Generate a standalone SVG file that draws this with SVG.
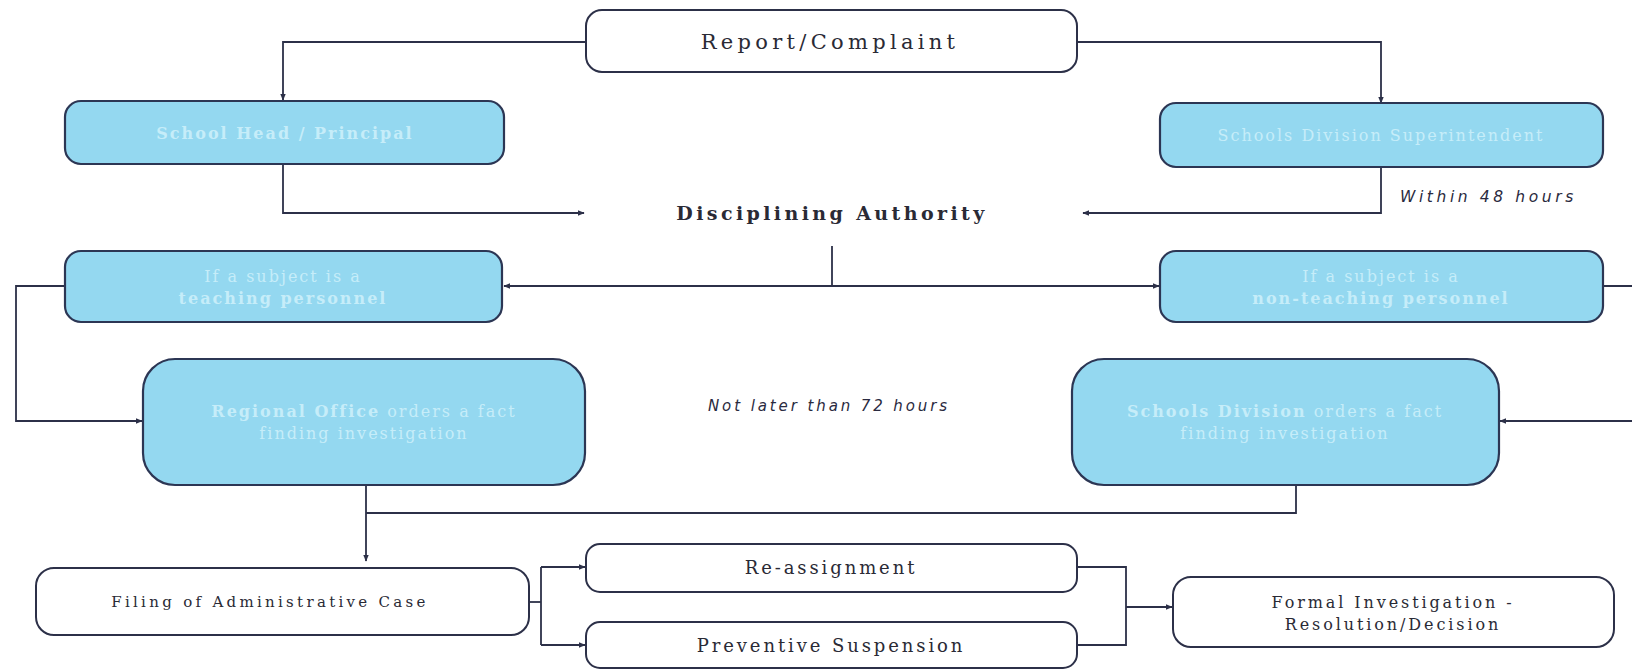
<svg xmlns="http://www.w3.org/2000/svg" width="1632" height="669" viewBox="0 0 1632 669">
<style>
.w{fill:#ffffff;stroke:#2c3048;stroke-width:2}
.b{fill:#94d8f0;stroke:#2c3654;stroke-width:2.2}
.t{font-family:"DejaVu Serif","Liberation Serif",serif;fill:#2a2a35;text-anchor:middle;dominant-baseline:central}
.bt{font-family:"DejaVu Serif","Liberation Serif",serif;fill:#c6edf9;text-anchor:middle;dominant-baseline:central;font-size:16px;letter-spacing:2px}
.it{font-family:"DejaVu Sans","Liberation Sans",sans-serif;font-style:italic;fill:#2a2a40;dominant-baseline:central}
.c{fill:none;stroke:#2c3048;stroke-width:1.8}
</style>
<defs>
<marker id="a" viewBox="0 0 10 10" refX="9" refY="5" markerWidth="7" markerHeight="7" orient="auto" markerUnits="userSpaceOnUse">
<path d="M0,1 L10,5 L0,9 z" fill="#2c3048"/>
</marker>
</defs>
<g id="connectors">
<path class="c" d="M586,42 H283 V100" marker-end="url(#a)"/>
<path class="c" d="M1077,42 H1381 V103" marker-end="url(#a)"/>
<path class="c" d="M283,164 V213 H584" marker-end="url(#a)"/>
<path class="c" d="M1381,167 V213 H1083" marker-end="url(#a)"/>
<path class="c" d="M832,246 V286"/>
<path class="c" d="M832,286 H504" marker-end="url(#a)"/>
<path class="c" d="M832,286 H1159" marker-end="url(#a)"/>
<path class="c" d="M65,286 H16 V421 H142" marker-end="url(#a)"/>
<path class="c" d="M1603,286 H1640 V421 H1500" marker-end="url(#a)"/>
<path class="c" d="M366,485 V561" marker-end="url(#a)"/>
<path class="c" d="M1296,485 V513 H366"/>
<path class="c" d="M529,602 H541"/>
<path class="c" d="M541,567 V645"/>
<path class="c" d="M541,567 H585" marker-end="url(#a)"/>
<path class="c" d="M541,645 H585" marker-end="url(#a)"/>
<path class="c" d="M1077,567 H1126 V645 H1077"/>
<path class="c" d="M1126,607 H1172" marker-end="url(#a)"/>
</g>
<g id="report">
<rect class="w" x="586" y="10" width="491" height="62" rx="16"/>
<text class="t" x="830" y="42" font-size="21" letter-spacing="4.3">Report/Complaint</text>
</g>
<g id="schoolhead">
<rect class="b" x="65" y="101" width="439" height="63" rx="16"/>
<text class="bt" x="285" y="133" font-weight="bold">School Head / Principal</text>
</g>
<g id="superintendent">
<rect class="b" x="1160" y="103" width="443" height="64" rx="16"/>
<text class="bt" x="1381" y="135" letter-spacing="1.5">Schools Division Superintendent</text>
</g>
<g id="authority">
<text class="t" x="832" y="213" font-size="19" font-weight="bold" letter-spacing="3.4">Disciplining Authority</text>
</g>
<g id="within48">
<text class="it" x="1400" y="197" font-size="15.5" letter-spacing="3.6">Within 48 hours</text>
</g>
<g id="teaching">
<rect class="b" x="65" y="251" width="437" height="71" rx="16"/>
<text class="bt" x="283" y="276">If a subject is a</text>
<text class="bt" x="283" y="298" font-weight="bold" letter-spacing="1.8">teaching personnel</text>
</g>
<g id="nonteaching">
<rect class="b" x="1160" y="251" width="443" height="71" rx="16"/>
<text class="bt" x="1381" y="276">If a subject is a</text>
<text class="bt" x="1381" y="298" font-weight="bold" letter-spacing="1.8">non-teaching personnel</text>
</g>
<g id="regional">
<rect class="b" x="143" y="359" width="442" height="126" rx="32"/>
<text class="bt" x="364" y="411"><tspan font-weight="bold">Regional Office</tspan> orders a fact</text>
<text class="bt" x="364" y="433">finding investigation</text>
</g>
<g id="not72">
<text class="it" x="708" y="406" font-size="15" letter-spacing="2.9">Not later than 72 hours</text>
</g>
<g id="division">
<rect class="b" x="1072" y="359" width="427" height="126" rx="32"/>
<text class="bt" x="1285" y="411"><tspan font-weight="bold">Schools Division</tspan> orders a fact</text>
<text class="bt" x="1285" y="433">finding investigation</text>
</g>
<g id="filing">
<rect class="w" x="36" y="568" width="493" height="67" rx="18"/>
<text class="t" x="270" y="602" font-size="15" letter-spacing="3.3">Filing of Administrative Case</text>
</g>
<g id="reassign">
<rect class="w" x="586" y="544" width="491" height="48" rx="14"/>
<text class="t" x="831" y="567" font-size="18" letter-spacing="2.9">Re-assignment</text>
</g>
<g id="suspension">
<rect class="w" x="586" y="622" width="491" height="46" rx="14"/>
<text class="t" x="831" y="645" font-size="18" letter-spacing="2.9">Preventive Suspension</text>
</g>
<g id="formal">
<rect class="w" x="1173" y="577" width="441" height="70" rx="18"/>
<text class="t" x="1393" y="602" font-size="16" letter-spacing="2.9">Formal Investigation -</text>
<text class="t" x="1393" y="624" font-size="16" letter-spacing="2.9">Resolution/Decision</text>
</g>
</svg>
